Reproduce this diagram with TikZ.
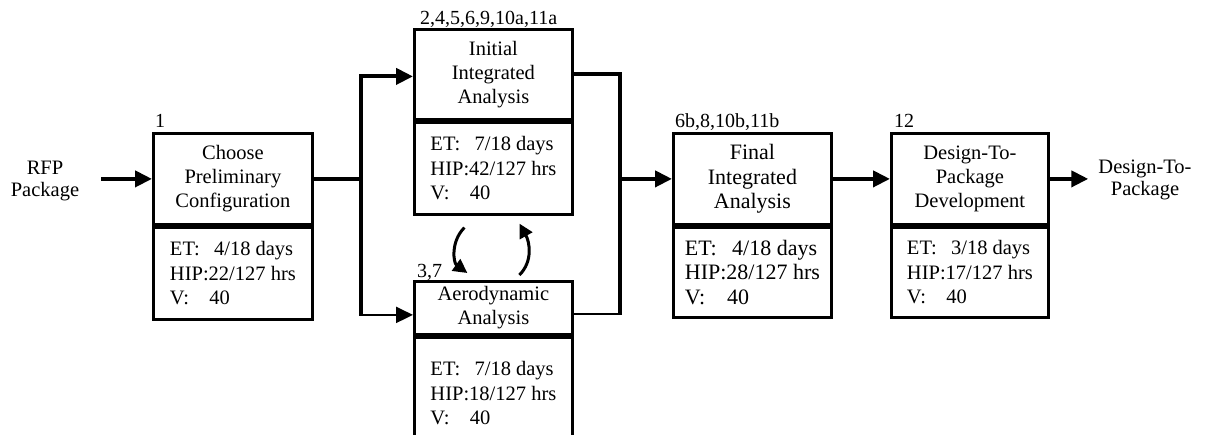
\documentclass[tikz,border=0pt]{standalone}
\usepackage{fontspec}
\setmainfont{Liberation Serif}
\usetikzlibrary{arrows.meta}
\begin{document}
\begin{tikzpicture}[x=1pt,y=-1pt,
  txt/.style={font=\fontsize{20.5}{22.5}\selectfont, inner sep=0pt},
  lbl/.style={font=\fontsize{20}{22}\selectfont, inner sep=0pt, anchor=base west},
  boxu/.style={draw, line width=2.8pt, anchor=north west, align=center, inner sep=0pt,
     font=\fontsize{20.5}{24}\selectfont},
  boxl/.style={draw, line width=2.8pt, anchor=north west, align=left, inner sep=0pt,
     font=\fontsize{20.5}{24.5}\selectfont},
  bigf/.style={font=\fontsize{22}{24.5}\selectfont},
  divider/.style={line width=4pt},
  conn/.style={line width=4pt, -{Triangle[length=17pt,width=16pt]}},
  connthin/.style={line width=2.2pt, -{Triangle[length=17pt,width=16pt]}},
  plain/.style={line width=4pt},
  plainthin/.style={line width=2.2pt},
  curv/.style={line width=3pt, -{Triangle[length=14pt,width=14pt]}},
]
\useasboundingbox (0,0) rectangle (1207,435);

% Choose Preliminary Configuration
\node[boxu, minimum width=159pt, minimum height=91pt] (c1u) at (152,132) {Choose\\Preliminary\\Configuration};
\node[boxl, minimum width=159pt, minimum height=92pt] (c1l) at (c1u.south west) {ET:\hspace{0.7em}4/18 days\\HIP:22/127 hrs\\V:\hspace{1em}40};
\draw[divider] (c1u.south west) -- (c1u.south east);
\node[lbl] (n1) at ([xshift=3pt,yshift=4pt]c1u.north west) {1};

% Initial Integrated Analysis
\node[boxu, minimum width=158pt, minimum height=90pt] (iu) at (413,28) {Initial\\Integrated\\Analysis};
\node[boxl, minimum width=158pt, minimum height=92pt] (il) at (iu.south west) {ET:\hspace{0.7em}7/18 days\\HIP:42/127 hrs\\V:\hspace{1em}40};
\draw[divider] (iu.south west) -- (iu.south east);
\node[lbl] (n2) at ([xshift=7pt,yshift=3pt]iu.north west) {2,4,5,6,9,10a,11a};

% Aerodynamic Analysis
\node[boxu, minimum width=158pt, minimum height=53pt] (au) at (413,280) {Aerodynamic\\Analysis};
\node[boxl, minimum width=158pt, minimum height=112pt] (al) at (au.south west) {ET:\hspace{0.7em}7/18 days\\HIP:18/127 hrs\\V:\hspace{1em}40};
\draw[divider] (au.south west) -- (au.south east);
\node[lbl] (n3) at ([xshift=4pt,yshift=2pt]au.north west) {3,7};

% Final Integrated Analysis
\node[boxu, bigf, minimum width=158pt, minimum height=91pt] (fu) at (672,132) {Final\\Integrated\\Analysis};
\node[boxl, bigf, minimum width=158pt, minimum height=90pt] (fl) at (fu.south west) {ET:\hspace{0.7em}4/18 days\\HIP:28/127 hrs\\V:\hspace{1em}40};
\draw[divider] (fu.south west) -- (fu.south east);
\node[lbl] (n4) at ([xshift=3pt,yshift=4pt]fu.north west) {6b,8,10b,11b};

% Design-To-Package Development
\node[boxu, minimum width=157pt, minimum height=91pt] (du) at (890,132) {Design-To-\\Package\\Development};
\node[boxl, minimum width=157pt, minimum height=90pt] (dl) at (du.south west) {ET:\hspace{0.7em}3/18 days\\HIP:17/127 hrs\\V:\hspace{1em}40};
\draw[divider] (du.south west) -- (du.south east);
\node[lbl] (n5) at ([xshift=4pt,yshift=4pt]du.north west) {12};

% outer texts
\node[txt, align=center] (rfp) at (45,181) {RFP\\Package};
\node[txt, align=center] (dtp) at (1145,180) {Design-To-\\Package};

% junction coordinates
\coordinate (jl) at (361,0);
\coordinate (jr) at (620,0);
\coordinate (aa) at ([yshift=-7pt]au.west);
\coordinate (ia) at ([yshift=-2pt]iu.west);

% connectors
\draw[conn, shorten <=22pt] (rfp.east |- c1u.east) -- (c1u.west);
\draw[plain] ([xshift=-1pt]c1u.east) -- (c1u.east -| jl);
\draw[plain] ([yshift=2pt]ia -| jl) -- ([yshift=-1pt]aa -| jl);
\draw[conn] ([xshift=-2pt]ia -| jl) -- (ia);
\draw[connthin] ([xshift=-1pt]aa -| jl) -- (aa);

\draw[plain] ([xshift=-1pt]iu.east) -- ([xshift=2pt]iu.east -| jr);
\draw[plain] ([yshift=2pt]iu.east -| jr) -- ([yshift=0pt]aa -| jr);
\draw[plainthin] ([yshift=1pt]aa -| au.east) -- ([yshift=1pt, xshift=2pt]aa -| jr);
\draw[conn] ([xshift=-2pt]fu.west -| jr) -- (fu.west);
\draw[conn] (fu.east) -- (du.west);
\draw[conn] (du.east) -- ([xshift=-10pt]dtp.west |- du.east);

% curved arrows between Initial and Aerodynamic
\coordinate (ca1) at ([xshift=-29pt,yshift=-12pt]il.south);
\coordinate (ca2) at ([xshift=-26pt,yshift=7pt]au.north);
\coordinate (cb1) at ([xshift=26pt,yshift=5pt]au.north);
\coordinate (cb2) at ([xshift=26pt,yshift=-8pt]il.south);
\draw[curv] (ca1) .. controls ([xshift=-14pt,yshift=-14pt]ca1) and ([xshift=-14pt,yshift=10pt]ca2) .. (ca2);
\draw[curv] (cb1) .. controls ([xshift=14pt,yshift=14pt]cb1) and ([xshift=10pt,yshift=-18pt]cb2) .. (cb2);
\end{tikzpicture}
\end{document}
